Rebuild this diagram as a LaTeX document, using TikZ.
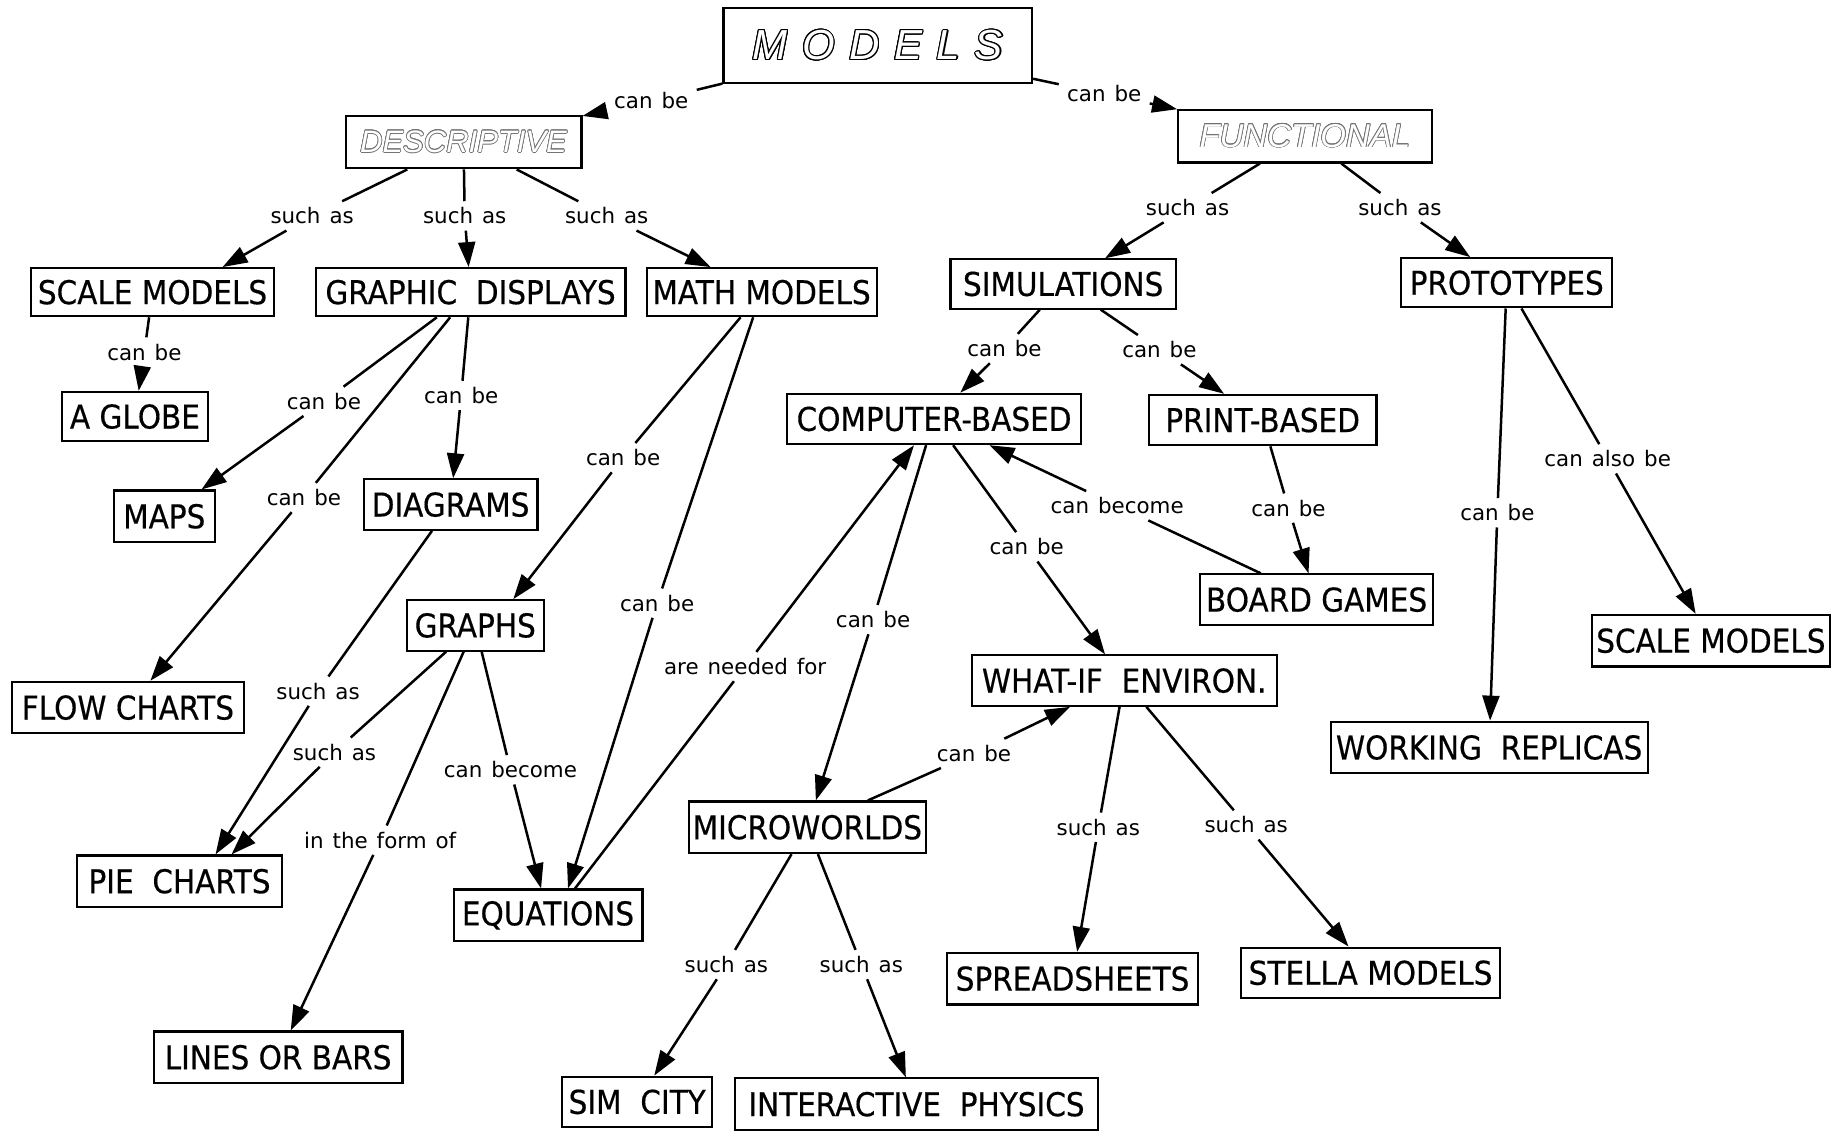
\documentclass[tikz,border=0pt]{standalone}
\usepackage{fontspec}
\setmainfont{DejaVu Sans}
\newfontfamily\boxfont[FakeStretch=0.9,FakeBold=0.4]{DejaVu Sans}
\newfontfamily\titlefont{Liberation Sans}
\usepackage[copies]{contour}
\usetikzlibrary{arrows.meta,calc}

% concept box: name, centre, width, height, text (sizes in picture units)
\newcommand\cnode[5]{\node[concept, minimum width=#3*0.5868pt, minimum height=#4*0.5868pt] (#1) at (#2) {#5};}
% outlined italic heading text
\newcommand\outlined[3]{{\color{white}\contourlength{#2}\contour{#1}{#3}}}
% font of the linking phrases, with slightly wider word spaces
\newcommand\linkfont{\fontsize{10.7}{12}\selectfont\spaceskip 0.42em\relax}

\tikzset{
  concept/.style={draw, line width=1.05pt, rectangle, inner sep=0pt,
    font=\boxfont\fontsize{16.4}{19}\selectfont},
  link/.style={inner xsep=4pt, inner ysep=3pt, font=\linkfont},
  conn/.style={line width=1.25pt},
  arr/.style={conn, -{Triangle[length=12.5pt,width=8.5pt]}},
}

\begin{document}
\begin{tikzpicture}[x=0.5868pt,y=-0.5868pt]
\useasboundingbox (0,0) rectangle (1568,965);

% ---------- concepts ----------
\cnode{models}{748,39}{263}{64}{\titlefont\itshape\fontsize{21}{24}\selectfont
  \outlined{black}{0.55pt}{M\hspace{7.3pt}O\hspace{7.3pt}D\hspace{7.3pt}E\hspace{7.3pt}L\hspace{7.3pt}S}}
\cnode{desc}{395,121}{201}{45}{\titlefont\itshape\fontsize{15.5}{18}\selectfont
  \outlined{black!55}{0.35pt}{DESCRIPTIVE}}
\cnode{func}{1112,116}{216}{45}{\titlefont\itshape\fontsize{16.5}{18}\selectfont
  \outlined{black!55}{0.35pt}{FUNCTIONAL}}

\cnode{sma}{130,249}{207}{41}{SCALE MODELS}
\cnode{gd}{401,249}{264}{41}{GRAPHIC\ \ DISPLAYS}
\cnode{mm}{649,249}{196}{41}{MATH MODELS}
\cnode{sim}{906,242}{192}{42}{SIMULATIONS}
\cnode{proto}{1284,241}{180}{42}{PROTOTYPES}

\cnode{globe}{115,355}{124}{42}{A GLOBE}
\cnode{maps}{140,440}{86}{44}{MAPS}
\cnode{diag}{384,430}{148}{43}{DIAGRAMS}
\cnode{cb}{796,357}{250}{43}{COMPUTER-BASED}
\cnode{pb}{1076,358}{194}{43}{PRINT-BASED}
\cnode{bg}{1122,511}{199}{43}{BOARD GAMES}

\cnode{graphs}{405,533}{117}{43}{GRAPHS}
\cnode{flow}{109,603}{198}{44}{FLOW CHARTS}
\cnode{pie}{153,751}{174}{44}{PIE\ \ CHARTS}
\cnode{eq}{467,780}{161}{44}{EQUATIONS}
\cnode{lob}{237,901}{212}{44}{LINES\ OR\ BARS}
\cnode{micro}{688,705}{202}{44}{MICROWORLDS}
\cnode{whatif}{958,580}{260}{43}{WHAT-IF\ \ ENVIRON.}
\cnode{spread}{914,834}{214}{44}{SPREADSHEETS}
\cnode{stella}{1168,829}{221}{43}{STELLA MODELS}
\cnode{simcity}{543,939}{128}{43}{SIM\ \ CITY}
\cnode{ip}{781,941}{309}{44}{INTERACTIVE\ \ PHYSICS}
\cnode{smb}{1458,546}{203}{44}{SCALE MODELS}
\cnode{wr}{1269,637}{270}{44}{WORKING\ \ REPLICAS}

% ---------- linking phrases ----------
\node[link] (l1)  at (555,86)   {can be};
\node[link] (l2)  at (941,80)   {can be};
\node[link] (l3)  at (266,184)  {such as};
\node[link] (l4)  at (396,184)  {such as};
\node[link] (l5)  at (517,184)  {such as};
\node[link] (l6)  at (1012,177) {such as};
\node[link] (l7)  at (1193,177) {such as};
\node[link] (l8)  at (123,300)  {can be};
\node[link] (l9)  at (276,342)  {can be};
\node[link] (l10) at (393,337)  {can be};
\node[link] (l11) at (259,424)  {can be};
\node[link] (l12) at (271,589)  {such as};
\node[link] (l13) at (285,641)  {such as};
\node[link] (l14) at (324,716)  {in the form of};
\node[link] (l15) at (435,656)  {can become};
\node[link] (l16) at (531,390)  {can be};
\node[link] (l17) at (560,514)  {can be};
\node[link] (l18) at (635,568)  {are needed for};
\node[link] (l19) at (744,528)  {can be};
\node[link] (l20) at (875,466)  {can be};
\node[link] (l21) at (952,431)  {can become};
\node[link] (l22) at (856,297)  {can be};
\node[link] (l23) at (988,298)  {can be};
\node[link] (l24) at (1098,433) {can be};
\node[link] (l25) at (830,642)  {can be};
\node[link] (l26) at (619,822)  {such as};
\node[link] (l27) at (734,822)  {such as};
\node[link] (l28) at (936,705)  {such as};
\node[link] (l29) at (1062,703) {such as};
\node[link] (l30) at (1276,437) {can be};
\node[link] (l31) at (1370,391) {can also be};

% ---------- connectors ----------
\draw[conn] (models) -- (l1);  \draw[arr] (l1) -- (desc);
\draw[conn] (models) -- (l2);  \draw[arr] (l2) -- (func);

\draw[conn] (desc) -- (l3);    \draw[arr] (l3) -- ([xshift=35pt]sma.north);
\draw[conn] (desc) -- (l4);    \draw[arr] (l4) -- (gd);
\draw[conn] (desc) -- (l5);    \draw[arr] (l5) -- (mm);
\draw[conn] (func) -- (l6);    \draw[arr] (l6) -- (sim);
\draw[conn] (func) -- (l7);    \draw[arr] (l7) -- (proto);

\draw[conn] (sma) -- (l8);     \draw[arr] (l8) -- (globe);
\draw[conn] (gd) -- (l9);      \draw[arr] (l9) -- (maps);
\draw[conn] (gd) -- (l10);     \draw[arr] (l10) -- (diag);
\draw[conn] (gd) -- (l11);     \draw[arr] (l11) -- (flow);

\draw[conn] (diag) -- (l12);   \draw[arr] (l12) -- ([xshift=18pt]pie.north);
\draw[conn] (graphs) -- (l13); \draw[arr] (l13) -- ([xshift=26pt]pie.north);
\draw[conn] (graphs) -- (l14); \draw[arr] (l14) -- (lob);
\draw[conn] (graphs) -- (l15); \draw[arr] (l15) -- (eq);

\draw[conn] (mm) -- (l16);     \draw[arr] (l16) -- ([xshift=19pt]graphs.north);
\draw[conn] (mm) -- (l17);     \draw[arr] (l17) -- ([xshift=10pt]eq.north);
\draw[conn] ([xshift=13.5pt]eq.north) -- (l18); \draw[arr] (l18) -- (cb);

\draw[conn] (sim) -- (l22);    \draw[arr] (l22) -- (cb);
\draw[conn] (sim) -- (l23);    \draw[arr] (l23) -- (pb);
\draw[conn] (pb) -- (l24);     \draw[arr] (l24) -- (bg);
\draw[conn] (bg) -- (l21);     \draw[arr] (l21) -- (cb);

\draw[conn] (cb) -- (l19);     \draw[arr] (l19) -- (micro);
\draw[conn] (cb) -- (l20);     \draw[arr] (l20) -- (whatif);
\draw[conn] (micro) -- (l25);  \draw[arr] (l25) -- (whatif);
\draw[conn] (micro) -- (l26);  \draw[arr] (l26) -- (simcity);
\draw[conn] (micro) -- (l27);  \draw[arr] (l27) -- (ip);
\draw[conn] (whatif) -- (l28); \draw[arr] (l28) -- (spread);
\draw[conn] (whatif) -- (l29); \draw[arr] (l29) -- (stella);

\draw[conn] (proto) -- (l30);  \draw[arr] (l30) -- (wr);
\draw[conn] (proto) -- (l31);  \draw[arr] (l31) -- (smb);
\end{tikzpicture}
\end{document}
